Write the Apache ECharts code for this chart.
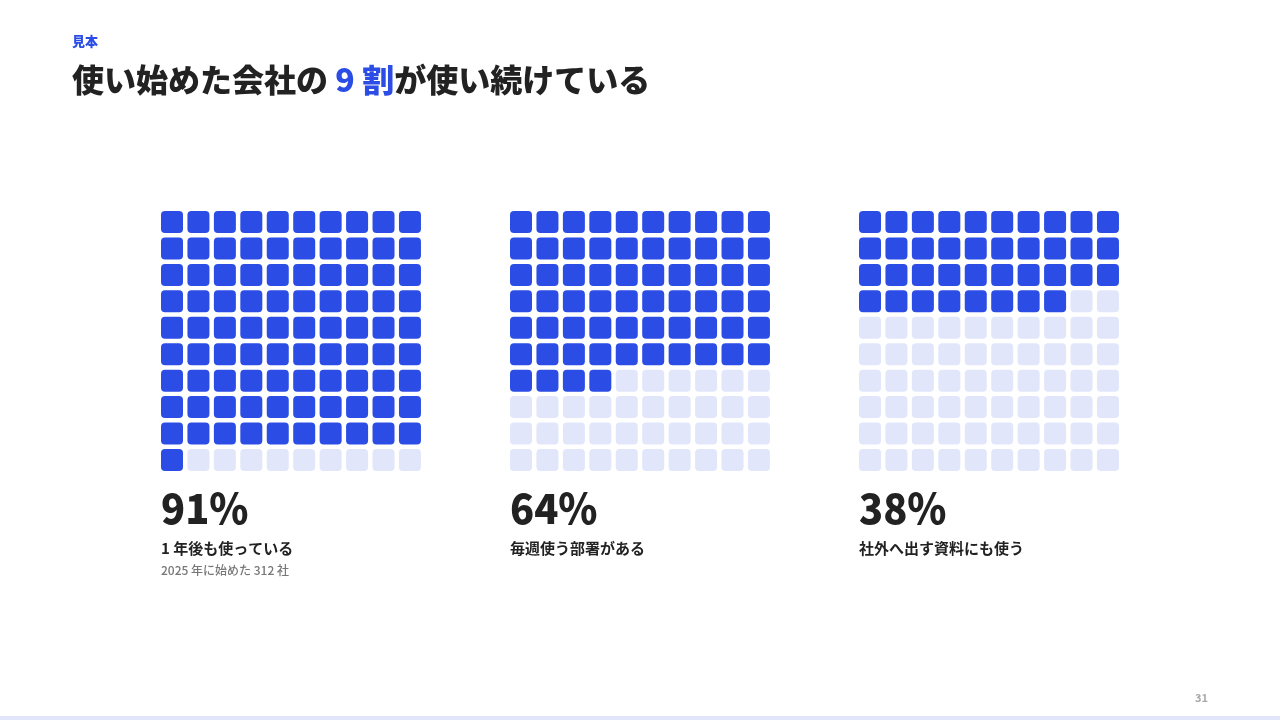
<!DOCTYPE html>
<html>
<head>
<meta charset="utf-8">
<style>
html, body { margin: 0; padding: 0; background: #fff; }
#main { width: 1280px; height: 720px; }
</style>
<script src="https://cdn.jsdelivr.net/npm/echarts@6/dist/echarts.min.js"></script>
</head>
<body>
<div id="main"></div>
<script>
var percents = [91, 64, 38];
var labels = ['1 年後も使っている', '毎週使う部署がある', '社外へ出す資料にも使う'];
var notes = ['2025 年に始めた 312 社', '', ''];
var gridLefts = [158.78, 507.78, 856.78];
var cols = ['0', '1', '2', '3', '4', '5', '6', '7', '8', '9'];
var rows = ['0', '1', '2', '3', '4', '5', '6', '7', '8', '9'];

var BLUE = '#2B4DE6';
var PALE = '#E1E6FB';
var INK = '#222222';
var FONT = '"Noto Sans CJK JP", "Noto Sans", sans-serif';

var chart = echarts.init(document.getElementById('main'), null, { renderer: 'canvas' });

// 1マス = 1%、左上から順に塗る
function cells(pct) {
    var arr = [];
    for (var r = 0; r < rows.length; r++) {
        for (var c = 0; c < cols.length; c++) {
            arr.push([c, r, r * 10 + c < pct ? 1 : 0]);
        }
    }
    return arr;
}

function renderCell(params, api) {
    var p = api.coord([api.value(0), api.value(1)]);
    var w = 22;
    return {
        type: 'rect',
        shape: { x: p[0] - w / 2, y: p[1] - w / 2, width: w, height: w, r: 4 },
        style: { fill: api.value(2) ? BLUE : PALE }
    };
}

var grids = [], xAxes = [], yAxes = [], series = [];
var texts = [
    { type: 'text', left: 72, top: 35, style: { text: '見本', font: '900 13px ' + FONT, fill: BLUE } },
    { type: 'text', left: 72, top: 64, style: {
        text: '{a|使い始めた会社の }{b|9 割}{a|が使い続けている}',
        rich: {
            a: { font: '900 32px ' + FONT, fill: INK },
            b: { font: '900 32px ' + FONT, fill: BLUE }
        }
    } },
    { type: 'text', right: 72, top: 692, style: { text: '31', font: 'bold 11px ' + FONT, fill: '#AAAAAA' } },
    { type: 'rect', shape: { x: 0, y: 716, width: 1280, height: 4 }, style: { fill: PALE } }
];

percents.forEach(function(pct, i) {
    grids.push({ left: gridLefts[i], top: 208.78, width: 264.4, height: 264.4 });
    xAxes.push({ type: 'category', gridIndex: i, data: cols, show: false });
    yAxes.push({ type: 'category', gridIndex: i, data: rows, inverse: true, show: false });
    series.push({
        type: 'custom',
        xAxisIndex: i,
        yAxisIndex: i,
        renderItem: renderCell,
        data: cells(pct),
        silent: true,
        animation: false
    });
    var x = Math.round(gridLefts[i] + 2.22);
    // 数字は字詰めされているので横を少し詰める
    texts.push({ type: 'text', x: x, y: 487, scaleX: 0.945, style: { text: pct + '%', font: '900 42px ' + FONT, fill: INK, textVerticalAlign: 'top' } });
    texts.push({ type: 'text', left: x, top: 541, style: { text: labels[i], font: 'bold 15px ' + FONT, fill: INK } });
    if (notes[i]) {
        texts.push({ type: 'text', left: x, top: 564, style: { text: notes[i], font: '500 12px ' + FONT, fill: '#777777' } });
    }
});

chart.setOption({
    animation: false,
    backgroundColor: '#ffffff',
    grid: grids,
    xAxis: xAxes,
    yAxis: yAxes,
    series: series,
    graphic: texts
});
</script>
</body>
</html>
